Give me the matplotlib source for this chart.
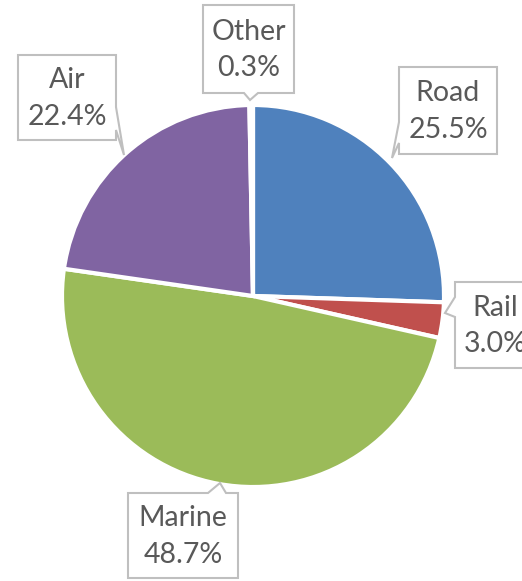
import matplotlib.pyplot as plt
from matplotlib.patches import Polygon

labels = ['Road', 'Rail', 'Marine', 'Air', 'Other']
shares = [25.5, 3.0, 48.7, 22.4, 0.3]
colors = ['#4F81BD', '#C0504D', '#9BBB59', '#8064A2', '#4BACC6']

# callout boxes in pixel coords: (left, top, right, bottom), tail base on a side, tail tip
boxes = {
    'Other': ((203, 5, 294, 93), 'bottom', (244, 258), (250, 100)),
    'Road': ((399, 67, 497, 154), 'left', (122, 143), (392, 158)),
    'Rail': ((455, 282, 535, 368), 'left', (297, 317), (445, 313)),
    'Marine': ((128, 493, 238, 578), 'top', (208, 226), (220, 483)),
    'Air': ((18, 55, 116, 140), 'right', (107, 130), (124, 155)),
}

W, H = 522, 581
fig = plt.figure(figsize=(W / 100, H / 100), dpi=100)
ax = fig.add_axes([0, 0, 1, 1])

ax.pie(shares, colors=colors, startangle=-90, counterclock=True,
       center=(253, 296), radius=191, explode=[3 / 191] * 5,
       wedgeprops=dict(edgecolor='white', linewidth=3))
ax.set_xlim(0, W)
ax.set_ylim(H, 0)
ax.set_aspect('equal')
ax.axis('off')


def callout(box, side, base, tip):
    l, t, r, b = box
    if side == 'bottom':
        pts = [(l, t), (r, t), (r, b), (base[1], b), tip, (base[0], b), (l, b)]
    elif side == 'top':
        pts = [(l, t), (base[0], t), tip, (base[1], t), (r, t), (r, b), (l, b)]
    elif side == 'left':
        pts = [(l, t), (r, t), (r, b), (l, b), (l, base[1]), tip, (l, base[0])]
    else:
        pts = [(l, t), (r, t), (r, base[0]), tip, (r, base[1]), (r, b), (l, b)]
    ax.add_patch(Polygon(pts, closed=True, facecolor='white', edgecolor='#BFBFBF',
                         linewidth=1.5, zorder=5))


for name, share in zip(labels, shares):
    box, side, base, tip = boxes[name]
    callout(box, side, base, tip)
    cx = (box[0] + box[2]) / 2
    cy = (box[1] + box[3]) / 2 + 1
    ax.text(cx, cy, f'{name}\n{share:.1f}%', ha='center', va='center',
            fontsize=20.5, color='#595959', family='Lato', linespacing=1.5, zorder=6)

fig.savefig('out.png', dpi=100)
